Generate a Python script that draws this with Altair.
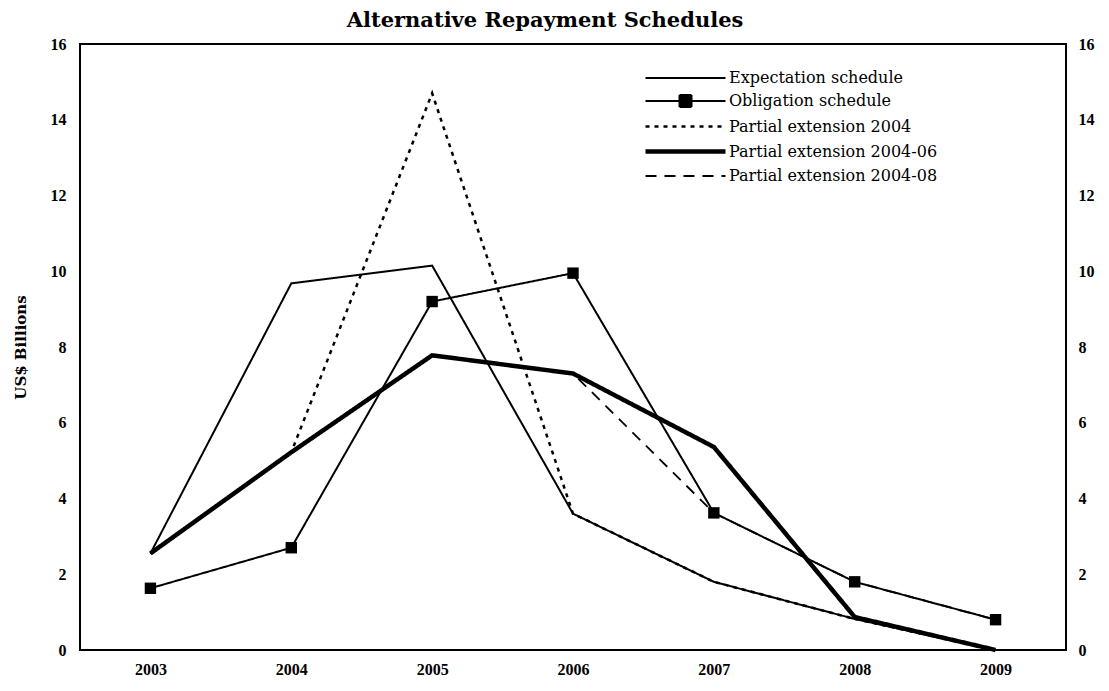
import altair as alt
import pandas as pd

years = [2003, 2004, 2005, 2006, 2007, 2008, 2009]
expectation = [2.55, 9.68, 10.15, 3.6, 1.8, 0.82, 0.0]
obligation = [1.63, 2.7, 9.2, 9.95, 3.62, 1.8, 0.8]
ext_2004 = [2.55, 5.22, 14.7, 3.6, 1.8, 0.82, 0.0]
ext_2004_06 = [2.55, 5.22, 7.78, 7.3, 5.36, 0.87, 0.0]
ext_2004_08 = [2.55, 5.22, 7.78, 7.3, 3.62, 1.8, 0.8]

series_names = [
    "Expectation schedule",
    "Obligation schedule",
    "Partial extension 2004",
    "Partial extension 2004-06",
    "Partial extension 2004-08",
]
# drawing order (bottom to top)
draw_order = [
    ("Partial extension 2004", ext_2004),
    ("Partial extension 2004-08", ext_2004_08),
    ("Expectation schedule", expectation),
    ("Obligation schedule", obligation),
    ("Partial extension 2004-06", ext_2004_06),
]

rows = []
for name, vals in draw_order:
    for y, v in zip(years, vals):
        rows.append({"year": y, "value": v, "series": name})
df = pd.DataFrame(rows)
obl_df = pd.DataFrame({"year": years, "value": obligation})

dash_range = [[1, 0], [1, 0], [4, 5], [1, 0], [11, 8]]
width_range = [2, 2, 2.5, 4.5, 1.8]
# legend symbol paths (symbol unit = 10 px): line 80 px long, square in its middle
line_path = "M-1,0L7,0"
square_path = (
    "M-1,0L7,0"
    "M2.4,-0.6L3.6,-0.6M2.4,-0.4L3.6,-0.4M2.4,-0.2L3.6,-0.2M2.4,0L3.6,0"
    "M2.4,0.2L3.6,0.2M2.4,0.4L3.6,0.4M2.4,0.6L3.6,0.6"
    "M2.4,-0.6L2.4,0.6M3.6,-0.6L3.6,0.6"
)
shape_range = [line_path, square_path, line_path, line_path, line_path]

FONT = "DejaVu Serif"
AXFONT = "Liberation Serif"

legend = alt.Legend(
    title=None,
    orient="none",
    legendX=563,
    legendY=23,
    symbolSize=400,
    labelFont=FONT,
    labelFontSize=16,
    labelColor="black",
    labelOffset=61,
    labelLimit=400,
    symbolStrokeColor="black",
    rowPadding=4,
)

dash_scale = alt.Scale(domain=series_names, range=dash_range)
width_scale = alt.Scale(type="ordinal", domain=series_names, range=width_range)
y_scale = alt.Scale(domain=[0, 16], nice=False)

x_enc = alt.X(
    "year:Q",
    scale=alt.Scale(domain=[2002.5, 2009.5], nice=False, zero=False),
    axis=alt.Axis(
        values=years, format="d", title=None, grid=False, ticks=False,
        labelPadding=11, labelFont=AXFONT, labelFontSize=16, labelFontWeight="bold",
        labelColor="black", domain=False,
    ),
)

legend_helper = alt.Chart(df).transform_filter("false").mark_point(
    filled=False, color="black", opacity=1
).encode(
    x=x_enc,
    y=alt.Y("value:Q", scale=y_scale, axis=None),
    shape=alt.Shape(
        "series:N", scale=alt.Scale(domain=series_names, range=shape_range), legend=legend
    ),
    strokeDash=alt.StrokeDash("series:N", scale=dash_scale, legend=legend),
    strokeWidth=alt.StrokeWidth("series:N", scale=width_scale, legend=legend),
)

lines = alt.Chart(df).mark_line(color="black").encode(
    x=alt.X("year:Q"),
    y=alt.Y(
        "value:Q",
        scale=y_scale,
        axis=alt.Axis(
            values=list(range(0, 17, 2)), title="US$ Billions", grid=False,
            ticks=False, labelPadding=14, labelFont=AXFONT, labelFontSize=16,
            labelFontWeight="bold", labelColor="black", titleFont=FONT,
            titleFontSize=15, titleFontWeight="bold", titleColor="black",
            titlePadding=22, domain=False,
        ),
    ),
    strokeDash=alt.StrokeDash("series:N", scale=dash_scale, legend=legend),
    strokeWidth=alt.StrokeWidth("series:N", scale=width_scale, legend=legend),
    detail="series:N",
)

squares = alt.Chart(obl_df).mark_point(
    shape="square", filled=True, color="black", size=130, opacity=1
).encode(
    x=alt.X("year:Q"),
    y=alt.Y(
        "value:Q",
        scale=y_scale,
        axis=alt.Axis(
            orient="right", values=list(range(0, 17, 2)), title=None, grid=False,
            ticks=False, labelPadding=12, labelFont=AXFONT, labelFontSize=16,
            labelFontWeight="bold", labelColor="black", domain=False,
        ),
    ),
)

chart = (
    alt.layer(legend_helper, lines, squares)
    .resolve_scale(y="independent")
    .properties(
        width=986,
        height=606,
        padding={"left": 5, "right": 5, "top": 2, "bottom": 5},
        title=alt.TitleParams(
            "Alternative Repayment Schedules", font=FONT, fontSize=21,
            fontWeight="bold", color="black", anchor="middle", offset=5, dx=-28,
        ),
    )
    .configure(background="white")
    .configure_view(stroke="black", strokeWidth=2)
)

chart.save("out.html", embed_options={"renderer": "svg", "actions": False})
